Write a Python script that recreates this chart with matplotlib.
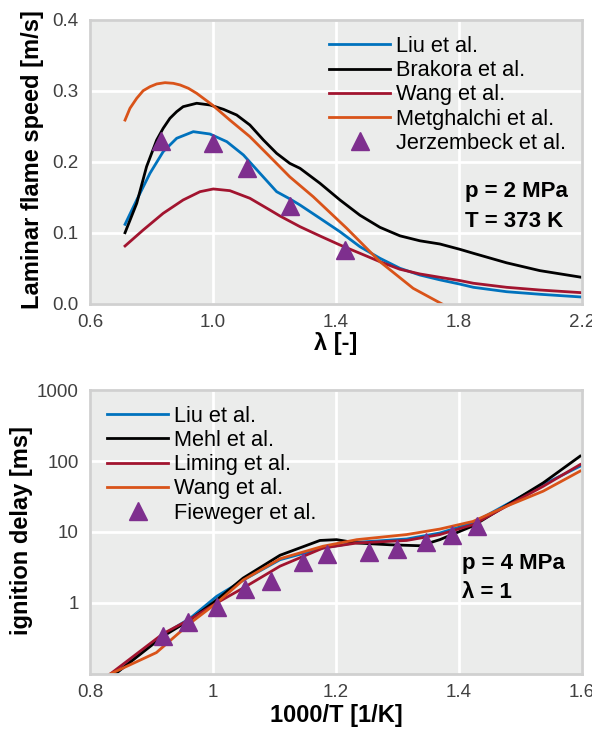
import matplotlib
matplotlib.use("Agg")
from matplotlib import pyplot as plt
from matplotlib.ticker import FixedLocator, NullLocator

plt.rcParams["font.family"] = ["Liberation Sans", "DejaVu Sans"]

# MATLAB-like colours
BLUE = "#0072BD"
BLACK = "#000000"
DRED = "#A2142F"
ORANGE = "#D95319"
PURPLE = "#7E2F8E"

# ---- top: laminar flame speed vs lambda ----
liu_lam = [0.714, 0.752, 0.795, 0.838, 0.882, 0.936, 0.99, 1.045, 1.099, 1.153, 1.207, 1.25, 1.283,
           1.348, 1.413, 1.478, 1.543, 1.608, 1.673, 1.738, 1.803, 1.847, 1.955, 2.063, 2.2]
liu_sl = [0.1122, 0.1465, 0.184, 0.2145, 0.2334, 0.2427, 0.2394, 0.2286, 0.2099, 0.184, 0.1582, 0.148, 0.1394,
          0.1207, 0.1018, 0.0807, 0.0644, 0.0503, 0.0408, 0.034, 0.028, 0.0235, 0.0173, 0.0137, 0.0098]

brak_lam = [0.714, 0.752, 0.768, 0.784, 0.817, 0.838, 0.86, 0.882, 0.903, 0.947, 0.99, 1.034, 1.077, 1.12, 1.164,
            1.207, 1.25, 1.283, 1.348, 1.413, 1.478, 1.543, 1.608, 1.673, 1.738, 1.803, 1.847, 1.955, 2.063, 2.2]
brak_sl = [0.1004, 0.1418, 0.1676, 0.1934, 0.231, 0.2474, 0.2615, 0.2709, 0.2779, 0.2827, 0.2803, 0.2742, 0.2662, 0.2521, 0.231,
           0.2122, 0.198, 0.1911, 0.17, 0.1465, 0.125, 0.108, 0.096, 0.089, 0.0845, 0.077, 0.0714, 0.058, 0.047, 0.0375]

wang_lam = [0.714, 0.773, 0.838, 0.903, 0.958, 1.001, 1.055, 1.12, 1.185, 1.218, 1.283, 1.348, 1.413,
            1.478, 1.543, 1.608, 1.673, 1.738, 1.803, 1.847, 1.955, 2.063, 2.2]
wang_sl = [0.0817, 0.1042, 0.1277, 0.1465, 0.1582, 0.162, 0.1596, 0.1489, 0.1324, 0.1239, 0.1089, 0.0958, 0.0831,
           0.0714, 0.0596, 0.0489, 0.0423, 0.0376, 0.033, 0.0292, 0.0235, 0.0197, 0.0159]

metg_lam = [0.714, 0.73, 0.752, 0.773, 0.795, 0.817, 0.844, 0.871, 0.893, 0.92, 0.947, 0.998, 1.055, 1.12,
            1.185, 1.25, 1.326, 1.435, 1.543, 1.651, 1.745]
metg_sl = [0.259, 0.2756, 0.2897, 0.3004, 0.306, 0.3099, 0.3117, 0.3108, 0.3085, 0.3038, 0.2967, 0.2803, 0.259, 0.2357,
           0.2075, 0.179, 0.1511, 0.1066, 0.0596, 0.0221, 0.0]

jerz_lam = [0.83, 1.0, 1.11, 1.25, 1.43]
jerz_sl = [0.230, 0.227, 0.192, 0.138, 0.076]

# ---- bottom: ignition delay vs 1000/T ----
liu_x = [0.841, 0.919, 0.963, 1.006, 1.055, 1.109, 1.179, 1.234, 1.315, 1.369, 1.423, 1.477, 1.537, 1.597]
liu_tau = [0.1, 0.356, 0.61, 1.24, 2.24, 4.07, 5.94, 7.15, 7.96, 9.68, 13.4, 24.3, 46.6, 84.5]

mehl_x = [0.841, 0.919, 0.963, 1.006, 1.049, 1.109, 1.174, 1.201, 1.234, 1.288, 1.337, 1.369, 1.423, 1.477, 1.537, 1.597]
mehl_tau = [0.1, 0.34, 0.58, 1.1, 2.24, 4.7, 7.6, 7.8, 7.0, 6.6, 6.4, 7.8, 12.2, 23.6, 49.2, 117]

liming_x = [0.833, 0.919, 0.963, 1.006, 1.049, 1.109, 1.179, 1.234, 1.315, 1.369, 1.423, 1.477, 1.537, 1.597]
liming_tau = [0.1, 0.37, 0.59, 1.0, 1.62, 3.3, 5.94, 7.0, 7.6, 9.2, 12.7, 23.0, 44.0, 89.0]

wang2_x = [0.833, 0.908, 0.963, 1.006, 1.049, 1.109, 1.179, 1.234, 1.315, 1.369, 1.423, 1.477, 1.537, 1.597]
wang2_tau = [0.1, 0.2, 0.52, 1.0, 2.1, 4.2, 6.3, 7.8, 9.2, 11.0, 14.1, 23.0, 37.6, 72.0]

fiew_x = [0.919, 0.960, 1.006, 1.052, 1.095, 1.146, 1.186, 1.253, 1.299, 1.347, 1.388, 1.430]
fiew_tau = [0.348, 0.548, 0.873, 1.57, 2.01, 3.73, 4.89, 5.16, 5.82, 7.15, 9.17, 12.0]


def style_axes(ax):
    ax.set_facecolor("#EBECEB")
    ax.grid(True, color="white", linewidth=2)
    ax.set_axisbelow(True)
    for s in ax.spines.values():
        s.set_color("#D0D0D0")
        s.set_linewidth(2)
    ax.tick_params(length=0, labelsize=13.5, labelcolor="#404040")
    ax.tick_params(axis="x", pad=7)
    ax.tick_params(axis="y", pad=8)


LW = 2
LEG = dict(frameon=False, fontsize=15.7, handlelength=2.8, handletextpad=0.27,
           labelspacing=0.15, borderaxespad=0, borderpad=0, loc="upper left")
fig = plt.figure(figsize=(5.92, 7.29), dpi=100)

ax1 = fig.add_axes([0.152, 0.583, 0.831, 0.3896])
style_axes(ax1)
ax1.plot(liu_lam, liu_sl, color=BLUE, lw=LW, label="Liu et al.")
ax1.plot(brak_lam, brak_sl, color=BLACK, lw=LW, label="Brakora et al.")
ax1.plot(wang_lam, wang_sl, color=DRED, lw=LW, label="Wang et al.")
ax1.plot(metg_lam, metg_sl, color=ORANGE, lw=LW, label="Metghalchi et al.")
ax1.plot(jerz_lam, jerz_sl, ls="none", marker="^", ms=12.5, color=PURPLE, label="Jerzembeck et al.")
ax1.set_xlim(0.6, 2.2)
ax1.set_ylim(0, 0.4)
ax1.set_xticks([0.6, 1.0, 1.4, 1.8, 2.2])
ax1.set_xticklabels(["0.6", "1.0", "1.4", "1.8", "2.2"])
ax1.set_yticks([0.0, 0.1, 0.2, 0.3, 0.4])
ax1.set_yticklabels(["0.0", "0.1", "0.2", "0.3", "0.4"])
ax1.set_xlabel("λ [-]", fontsize=17, fontweight="bold")
ax1.set_ylabel("Laminar flame speed [m/s]", fontsize=17, fontweight="bold")
ax1.xaxis.set_label_coords(0.5, -0.1)
ax1.yaxis.set_label_coords(-0.0935, 0.508)
ax1.legend(bbox_to_anchor=(0.486, 0.944), **LEG)
ax1.text(0.762, 0.378, "p = 2 MPa", transform=ax1.transAxes, ha="left", va="baseline",
         fontsize=16, fontweight="bold")
ax1.text(0.762, 0.272, "T = 373 K", transform=ax1.transAxes, ha="left", va="baseline",
         fontsize=16, fontweight="bold")

ax2 = fig.add_axes([0.152, 0.0755, 0.831, 0.3895])
style_axes(ax2)
ax2.plot(liu_x, liu_tau, color=BLUE, lw=LW, label="Liu et al.")
ax2.plot(mehl_x, mehl_tau, color=BLACK, lw=LW, label="Mehl et al.")
ax2.plot(liming_x, liming_tau, color=DRED, lw=LW, label="Liming et al.")
ax2.plot(wang2_x, wang2_tau, color=ORANGE, lw=LW, label="Wang et al.")
ax2.plot(fiew_x, fiew_tau, ls="none", marker="^", ms=12.5, color=PURPLE, label="Fieweger et al.")
ax2.set_yscale("log")
ax2.set_xlim(0.8, 1.6)
ax2.set_ylim(0.1, 1000)
ax2.set_xticks([0.8, 1.0, 1.2, 1.4, 1.6])
ax2.set_xticklabels(["0.8", "1", "1.2", "1.4", "1.6"])
ax2.yaxis.set_major_locator(FixedLocator([1, 10, 100, 1000]))
ax2.yaxis.set_minor_locator(NullLocator())
ax2.set_yticklabels(["1", "10", "100", "1000"])
ax2.set_xlabel("1000/T [1/K]", fontsize=17, fontweight="bold")
ax2.set_ylabel("ignition delay [ms]", fontsize=17, fontweight="bold")
ax2.xaxis.set_label_coords(0.5, -0.105)
ax2.yaxis.set_label_coords(-0.1159, 0.505)
ax2.legend(bbox_to_anchor=(0.0346, 0.945), **LEG)
ax2.text(0.756, 0.3696, "p = 4 MPa", transform=ax2.transAxes, ha="left", va="baseline",
         fontsize=16, fontweight="bold")
ax2.text(0.756, 0.267, "λ = 1", transform=ax2.transAxes, ha="left", va="baseline",
         fontsize=16, fontweight="bold")

fig.savefig("out.png", dpi=100)
